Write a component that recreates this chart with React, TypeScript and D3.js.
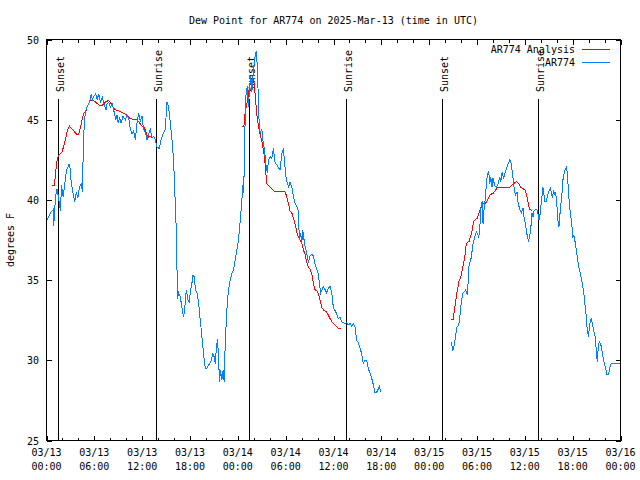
import React from "react";
import * as d3 from "d3";

// ---- Data (time in hours after 2025-03-13 00:00 UTC) ----
const obsTimes = [
  0.09,0.50,0.84,0.91,1.13,1.34,1.54,1.75,1.88,2.09,2.25,2.50,2.79,2.92,3.01,3.22,3.42,3.54,3.76,3.92,4.13,4.35,4.51,4.60,4.72,4.88,5.10,5.42,5.60,5.76,5.92,6.17,6.35,6.55,6.76,7.01,7.26,7.48,7.60,7.80,8.01,8.23,8.43,8.68,8.85,8.98,9.18,9.35,9.60,9.89,10.11,10.31,10.52,10.73,10.93,11.14,11.36,11.56,11.77,11.98,12.18,12.40,12.61,12.81,13.02,13.24,13.44,13.65,13.86,14.15,14.36,14.61,14.90,15.11,15.31,15.53,15.74,15.94,16.15,16.28,16.37,16.44,16.57,16.78,16.99,17.19,17.32,17.53,17.74,17.91,18.03,18.24,18.37,18.57,18.66,18.87,19.07,19.20,19.37,19.53,19.70,19.91,20.12,20.32,20.62,20.87,21.04,21.16,21.29,21.45,21.58,21.70,21.83,22.00,22.16,22.29,22.41,22.54,22.70,22.83,23.04,23.25,23.45,23.67,23.88,24.08,24.21,24.38,24.51,24.63,24.71,24.83,24.88,24.96,25.04,25.21,25.33,25.46,25.63,25.76,25.96,26.17,26.30,26.38,26.51,26.63,26.80,27.01,27.14,27.34,27.55,27.71,27.84,28.05,28.26,28.46,28.68,28.89,29.09,29.30,29.51,29.71,29.84,30.02,30.22,30.39,30.55,30.77,30.97,31.18,31.39,31.59,31.72,31.89,32.02,32.14,32.31,32.43,32.64,32.85,33.06,33.27,33.47,33.68,33.81,33.97,34.10,34.22,34.40,34.56,34.72,34.94,35.15,35.35,35.56,35.78,35.98,36.19,36.40,36.60,36.81,37.03,37.23,37.44,37.65,37.85,38.07,38.28,38.48,38.69,38.90,39.11,39.32,39.53,39.73,39.94,40.16,40.36,40.57,40.78,40.98,41.20,41.41,41.61,41.74,41.95,
  46.0,
  50.80,50.93,51.09,51.30,51.50,51.72,51.84,52.05,52.25,52.47,52.59,52.76,52.88,53.01,53.22,53.38,53.51,53.72,53.93,54.06,54.22,54.35,54.47,54.63,54.76,54.88,55.06,55.18,55.31,55.47,55.60,55.72,55.89,56.01,56.22,56.44,56.64,56.85,56.98,57.14,57.35,57.52,57.69,57.82,57.98,58.10,58.27,58.44,58.60,58.73,58.85,59.02,59.14,59.35,59.57,59.77,59.89,60.07,60.19,60.32,60.48,60.61,60.73,60.90,61.02,61.15,61.32,61.52,61.65,61.77,61.95,62.07,62.20,62.27,62.40,62.52,62.70,62.82,62.99,63.20,63.32,63.45,63.61,63.74,63.86,64.03,64.15,64.28,64.36,64.49,64.65,64.78,64.99,65.20,65.33,65.49,65.61,65.83,66.03,66.15,66.37,66.53,66.74,66.96,67.16,67.37,67.53,67.71,67.83,67.99,68.12,68.33,68.46,68.62,68.83,68.96,69.08,69.25,69.37,69.58,69.71,69.87,70.09,70.29,70.50,70.62,70.84,71.25,71.88
];
const obsDew = [
  38.75,39.2,39.4,38.4,40.2,40.7,40.0,39.3,40.9,40.2,40.8,41.8,42.2,42.2,41.5,40.7,40.2,39.9,40.5,40.1,40.8,41.0,40.5,42.9,44.6,45.5,45.8,46.1,46.6,46.25,46.45,46.6,46.25,46.6,46.1,46.4,45.9,45.6,46.0,46.1,45.8,46.0,45.6,45.0,45.3,44.8,45.1,44.8,45.2,45.0,45.3,45.1,44.4,44.1,44.3,43.75,44.8,45.4,44.9,45.2,44.4,44.2,43.75,44.1,44.4,43.9,43.95,43.75,43.3,43.2,43.75,44.1,44.4,46.1,45.8,44.8,43.75,42.5,39.8,38.1,35.6,33.85,34.2,33.95,33.3,32.7,33.1,34.4,33.75,33.65,34.2,34.8,35.3,35.2,34.4,34.2,33.65,32.9,32.1,31.25,30.4,29.5,29.5,29.7,29.9,30.4,30.2,29.8,30.6,31.35,30.2,28.65,29.4,28.75,29.4,28.65,30.9,32.3,33.75,34.4,35.0,35.4,35.6,36.25,36.9,37.5,38.2,39.2,40.0,40.9,40.4,42.3,44.2,45.8,46.7,47.1,45.8,46.9,47.7,46.7,48.1,48.96,49.3,48.96,47.3,45.2,44.2,44.4,43.75,43.1,42.1,41.7,42.5,42.7,42.6,43.2,42.3,42.2,42.0,41.9,42.9,43.2,42.5,41.5,41.0,40.8,41.1,40.8,40.2,39.8,39.6,39.3,37.5,37.9,37.3,38.1,37.5,37.1,36.7,36.1,36.5,36.6,36.5,36.0,35.8,35.6,35.4,34.8,34.2,34.4,34.6,34.4,34.2,34.5,34.6,34.2,33.3,33.1,32.9,32.6,32.7,32.4,32.35,32.3,32.35,32.2,32.3,32.1,32.3,32.1,31.25,31.1,30.8,30.4,29.8,30.0,30.0,29.5,29.2,28.9,28.5,28.0,28.0,28.2,28.4,28.0,
  NaN,
  31.15,30.6,30.8,31.45,32.1,32.2,32.7,33.75,34.2,34.3,34.4,34.1,34.8,36.0,36.25,36.8,37.3,37.7,38.0,37.9,37.7,38.2,39.4,39.9,38.5,39.4,40.2,41.0,41.6,41.8,41.0,41.45,40.8,41.35,40.9,40.8,41.0,41.45,41.15,41.7,41.35,41.7,41.9,42.2,42.3,42.5,42.3,41.7,41.0,40.5,40.3,40.5,39.9,39.4,39.2,39.5,38.95,38.5,38.1,37.7,37.4,37.8,38.1,39.2,38.95,39.3,39.4,39.4,39.1,38.75,39.2,39.9,40.4,40.8,40.3,39.9,39.9,40.2,40.5,40.7,40.5,40.1,40.6,40.3,40.5,39.6,38.75,38.3,38.85,39.6,40.3,41.25,41.8,42.0,41.7,40.4,39.6,38.75,37.7,37.8,37.2,36.6,35.9,35.4,34.9,34.3,33.55,32.7,31.9,31.45,32.2,32.6,32.3,31.9,31.45,30.6,29.9,31.05,31.15,30.9,30.5,30.0,29.6,29.1,29.1,29.5,29.8,29.8,29.8
];

const anaTimes = [
  0.71,1.00,1.13,1.34,1.54,1.75,1.97,2.17,2.38,2.59,2.88,3.22,3.42,3.76,4.04,4.26,4.47,4.67,4.88,5.10,5.30,5.51,5.92,6.35,6.67,6.97,7.39,7.80,8.10,8.43,8.77,9.27,9.68,10.11,10.43,10.93,11.36,11.68,11.98,12.27,12.52,12.68,12.94,13.24,
  18.0,
  24.63,24.79,24.92,25.13,25.33,25.46,25.63,25.80,25.96,26.08,26.21,26.38,26.58,26.80,27.01,27.21,27.34,27.51,27.63,27.84,28.26,28.68,29.30,29.93,30.14,30.34,30.55,30.77,30.97,31.18,31.39,31.59,31.81,32.02,32.22,32.43,32.64,32.85,33.06,33.27,33.47,33.68,33.97,34.22,34.52,34.81,35.15,35.47,35.78,36.19,36.40,36.60,36.94,
  44.0,
  50.80,51.00,51.13,51.30,51.43,51.63,51.76,51.93,52.05,52.25,52.47,52.59,52.76,53.01,53.18,53.38,53.59,53.80,54.01,54.26,54.56,54.76,55.10,55.31,55.51,55.72,56.01,56.31,56.64,57.06,57.69,58.10,58.31,58.60,58.94,59.23,59.48,59.77,60.07,60.27,60.45,60.61,60.90
];
const anaDew = [
  40.875,40.9,41.7,42.5,42.8,42.9,43.0,43.4,43.75,44.3,44.6,44.4,44.3,44.1,44.1,44.5,45.0,45.4,45.45,45.8,46.0,46.2,46.2,46.0,45.9,45.9,46.1,46.2,46.0,45.7,45.6,45.5,45.4,45.3,45.1,45.0,45.0,44.8,44.6,44.5,44.2,43.9,43.95,43.9,
  NaN,
  44.55,44.7,45.5,46.0,46.45,47.2,47.4,47.5,47.5,47.1,46.35,45.3,44.6,44.1,43.65,43.1,42.7,41.7,41.0,40.9,40.7,40.5,40.5,40.5,40.2,39.8,39.3,39.2,38.85,38.5,38.0,37.7,37.5,37.3,36.9,36.6,36.1,35.8,35.7,35.4,34.8,34.4,34.3,33.95,33.3,33.1,33.0,32.7,32.4,32.2,32.1,32.0,32.0,
  NaN,
  32.55,32.55,33.0,33.55,34.1,34.6,35.0,35.1,35.4,35.9,36.45,37.1,37.35,37.4,37.7,38.1,38.65,38.8,38.85,39.2,39.6,39.75,39.8,40.0,40.2,40.35,40.4,40.6,40.8,40.8,40.8,40.8,40.9,41.0,41.15,41.0,40.8,40.7,40.6,40.2,39.7,39.4,39.35
];

const sunTimes = [1.42, 13.70, 25.46, 37.62, 49.55, 61.66];
const sunLabels = ["Sunset", "Sunrise", "Sunset", "Sunrise", "Sunset", "Sunrise"];

const xTickHours = [0, 6, 12, 18, 24, 30, 36, 42, 48, 54, 60, 66, 72];
const xTickDates = ["03/13", "03/13", "03/13", "03/13", "03/14", "03/14", "03/14", "03/14", "03/15", "03/15", "03/15", "03/15", "03/16"];
const xTickTimes = ["00:00", "06:00", "12:00", "18:00", "00:00", "06:00", "12:00", "18:00", "00:00", "06:00", "12:00", "18:00", "00:00"];
const yTicks = [25, 30, 35, 40, 45, 50];

const titleText = "Dew Point for AR774 on 2025-Mar-13 (time in UTC)";
const yLabelText = "degrees F";
const seriesNames = ["AR774 Analysis", "AR774"];

const FONT = "'DejaVu Sans Mono', monospace";
const RED = "#ff0000";
const BLUE = "#0080ff";

export default function App() {
  const W = 640, H = 480;
  const L = 46.5, R = 620.5, T = 39.5, B = 440.5;
  const x = d3.scaleLinear().domain([0, 72]).range([L, R]);
  const y = d3.scaleLinear().domain([25, 50]).range([B, T]);

  const obs = obsTimes.map((t, i) => [t, obsDew[i]] as [number, number]);
  const ana = anaTimes.map((t, i) => [t, anaDew[i]] as [number, number]);
  const line = d3
    .line<[number, number]>()
    .defined((d) => !isNaN(d[1]))
    .x((d) => x(d[0]))
    .y((d) => y(d[1]));

  const minorTicks = d3.range(0, 73, 2).filter((h) => h % 6 !== 0);

  return (
    <svg
      width={W}
      height={H}
      style={{ position: "absolute", left: 0, top: 0, background: "#fff" }}
      fontFamily={FONT}
      fontSize={10}
    >
      <rect x={0} y={0} width={W} height={H} fill="#fff" />
      {/* title */}
      <text x={(L + R) / 2} y={24} textAnchor="middle" fill="#000">
        {titleText}
      </text>
      {/* y label */}
      <text transform={`translate(14,240) rotate(-90)`} textAnchor="middle" fill="#000">
        {yLabelText}
      </text>

      {/* ticks */}
      <g stroke="#000" strokeWidth={1} shapeRendering="crispEdges">
        {xTickHours.map((h) => (
          <g key={"xt" + h}>
            <line x1={Math.round(x(h)) + 0.5} x2={Math.round(x(h)) + 0.5} y1={B} y2={B - 5} />
            <line x1={Math.round(x(h)) + 0.5} x2={Math.round(x(h)) + 0.5} y1={T} y2={T + 5} />
          </g>
        ))}
        {minorTicks.map((h) => (
          <g key={"xm" + h}>
            <line x1={Math.round(x(h)) + 0.5} x2={Math.round(x(h)) + 0.5} y1={B} y2={B - 3} />
            <line x1={Math.round(x(h)) + 0.5} x2={Math.round(x(h)) + 0.5} y1={T} y2={T + 3} />
          </g>
        ))}
        {yTicks.map((v) => (
          <g key={"yt" + v}>
            <line x1={L} x2={L + 5} y1={Math.round(y(v)) + 0.5} y2={Math.round(y(v)) + 0.5} />
            <line x1={R} x2={R - 5} y1={Math.round(y(v)) + 0.5} y2={Math.round(y(v)) + 0.5} />
          </g>
        ))}
      </g>

      {/* tick labels */}
      {yTicks.map((v) => (
        <text key={"yl" + v} x={39} y={y(v) + 4} textAnchor="end" fill="#000">
          {v}
        </text>
      ))}
      {xTickHours.map((h, i) => (
        <g key={"xl" + h}>
          <text x={x(h)} y={456} textAnchor="middle" fill="#000">
            {xTickDates[i]}
          </text>
          <text x={x(h)} y={470} textAnchor="middle" fill="#000">
            {xTickTimes[i]}
          </text>
        </g>
      ))}

      {/* sunrise / sunset lines */}
      {sunTimes.map((t, i) => {
        const sx = Math.round(x(t)) + 0.5;
        return (
          <g key={"sun" + i}>
            <line x1={sx} x2={sx} y1={99} y2={B} stroke="#000" strokeWidth={1} shapeRendering="crispEdges" />
            <text transform={`translate(${sx + 5},92) rotate(-90)`} textAnchor="start" fill="#000">
              {sunLabels[i]}
            </text>
          </g>
        );
      })}

      {/* series */}
      <path d={line(ana) || ""} fill="none" stroke={RED} strokeWidth={1} shapeRendering="crispEdges" />
      <path d={line(obs) || ""} fill="none" stroke={BLUE} strokeWidth={1} shapeRendering="crispEdges" />

      {/* legend */}
      <text x={575} y={53} textAnchor="end" fill="#000">
        {seriesNames[0]}
      </text>
      <line x1={582} x2={610} y1={49.5} y2={49.5} stroke={RED} strokeWidth={1} />
      <text x={575} y={66} textAnchor="end" fill="#000">
        {seriesNames[1]}
      </text>
      <line x1={582} x2={610} y1={62.5} y2={62.5} stroke={BLUE} strokeWidth={1} />

      {/* frame */}
      <rect x={L} y={T} width={R - L} height={B - T} fill="none" stroke="#000" strokeWidth={1} shapeRendering="crispEdges" />
    </svg>
  );
}
